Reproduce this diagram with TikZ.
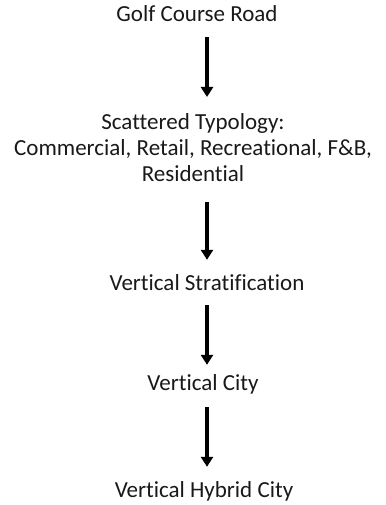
\documentclass[tikz,border=0pt]{standalone}
\usepackage{fontspec}
\setmainfont[Ligatures={NoCommon}]{Carlito}
\usetikzlibrary{arrows.meta}
\begin{document}
\begin{tikzpicture}[x=1pt,y=-1pt,
  label/.style={inner sep=0pt,text height=15pt,text depth=0pt,font=\fontsize{23}{26}\selectfont,text=black!90},
  block/.style={inner sep=0pt,align=center,font=\fontsize{23}{26}\selectfont,text=black!90},
  flow/.style={line width=3.5pt,-{Triangle[width=12pt,length=10pt]}}]
\useasboundingbox (0,0) rectangle (385,505);
\coordinate (ax) at (207,0);
\node[label,anchor=base] (road) at (197,22) {Golf Course Road};
\node[block,anchor=north] (typo) at (193,113) {Scattered Typology:\\Commercial, Retail, Recreational, F\&B,\\Residential};
\node[label,anchor=base] (strat) at (207,290) {Vertical Stratification};
\node[label,anchor=base] (city) at (203,390) {Vertical City};
\node[label,anchor=base] (hybrid) at (204,497) {Vertical Hybrid City};
\draw[flow,shorten <=15pt,shorten >=16pt] (road.south -| ax) -- (typo.north -| ax);
\draw[flow,shorten <=20pt,shorten >=15pt] (typo.south -| ax) -- (strat.north -| ax);
\draw[flow,shorten <=15pt,shorten >=10pt] (strat.south -| ax) -- (city.north -| ax);
\draw[flow,shorten <=17pt,shorten >=15pt] (city.south -| ax) -- (hybrid.north -| ax);
\end{tikzpicture}
\end{document}
